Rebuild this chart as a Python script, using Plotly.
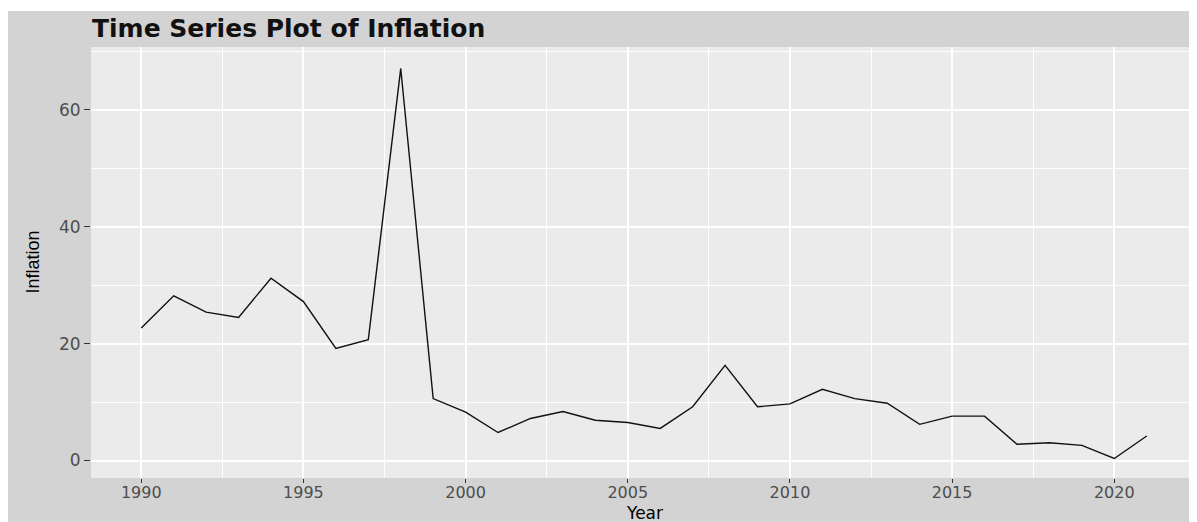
import plotly.graph_objects as go

years = list(range(1990, 2022))
inflation = [22.7, 28.2, 25.4, 24.5, 31.2, 27.2, 19.2, 20.7, 67.1, 10.6,
             8.3, 4.8, 7.2, 8.4, 6.9, 6.5, 5.5, 9.2, 16.3, 9.2,
             9.7, 12.2, 10.6, 9.8, 6.2, 7.6, 7.6, 2.8, 3.05, 2.6,
             0.35, 4.2]
x_ticks = [1990, 1995, 2000, 2005, 2010, 2015, 2020]
x_minor = [1992.5, 1997.5, 2002.5, 2007.5, 2012.5, 2017.5, 2022.5]
y_ticks = [0, 20, 40, 60]
y_minor = [10, 30, 50, 70]

title_text = "Time Series Plot of Inflation"
x_label = "Year"
y_label = "Inflation"

# page body has an 8px margin; figure drawn inside it
W, H = 1189, 514
ml, mr, mt, mb = 83, 0, 39, 44
pw, ph = W - ml - mr, H - mt - mb

fig = go.Figure()
fig.add_trace(go.Scatter(x=years, y=inflation, mode="lines",
                         line=dict(color="#111111", width=1.4),
                         showlegend=False, hoverinfo="x+y"))

span = max(years) - min(years)
yspan = max(inflation) - min(inflation)

fig.update_layout(
    width=W, height=H,
    margin=dict(l=ml, r=mr, t=mt, b=mb),
    paper_bgcolor="#D3D3D3",
    plot_bgcolor="#EBEBEB",
    font=dict(family="DejaVu Sans", size=16, color="#4D4D4D"),
    title=dict(text="<b>" + title_text + "</b>", x=84 / W, xref="container", xanchor="left",
               y=1 - 20.5 / H, yref="container", yanchor="middle",
               font=dict(family="DejaVu Sans", size=25, color="#111111")),
    xaxis=dict(range=[min(years) - 0.05 * span, max(years) + 0.05 * span],
               tickvals=x_ticks, showgrid=True, gridcolor="#FFFFFF", gridwidth=1.6,
               minor=dict(tickvals=x_minor, showgrid=True, gridcolor="#FFFFFF", gridwidth=0.8),
               zeroline=False, showline=False,
               ticks="outside", ticklen=4, tickwidth=1.2, tickcolor="#333333",
               ticklabelstandoff=-4,
               tickfont=dict(family="DejaVu Sans", size=16, color="#4D4D4D")),
    yaxis=dict(range=[min(inflation) - 0.05 * yspan, max(inflation) + 0.055 * yspan],
               tickvals=y_ticks, showgrid=True, gridcolor="#FFFFFF", gridwidth=1.6,
               minor=dict(tickvals=y_minor, showgrid=True, gridcolor="#FFFFFF", gridwidth=0.8),
               zeroline=False, showline=False,
               ticks="outside", ticklen=6, tickwidth=1.2, tickcolor="#333333",
               tickfont=dict(family="DejaVu Sans", size=17, color="#4D4D4D")),
    shapes=[
        dict(type="rect", xref="paper", yref="paper",
             x0=-ml / pw - 0.01, x1=1.01, y0=1 + (mt - 3) / ph, y1=1 + mt / ph + 0.01,
             fillcolor="#FFFFFF", line=dict(width=0), layer="above"),
    ],
    annotations=[
        dict(text=x_label, xref="paper", yref="paper", x=0.5, y=-(504.5 - (H - mb)) / ph,
             xanchor="center", yanchor="middle", showarrow=False,
             font=dict(family="DejaVu Sans", size=17, color="#000000")),
        dict(text=y_label, xref="paper", yref="paper", x=(24 - ml) / pw, y=0.5,
             xanchor="center", yanchor="middle", showarrow=False, textangle=-90,
             font=dict(family="Liberation Sans Narrow, Liberation Sans", size=18, color="#000000")),
    ],
)

fig.write_html("out.html")
